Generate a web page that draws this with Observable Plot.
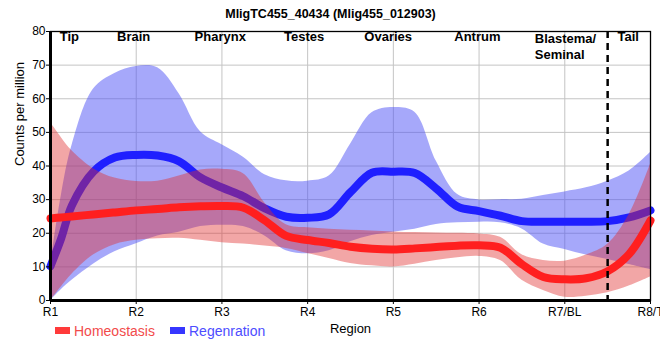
<!DOCTYPE html>
<html>
<head>
<meta charset="utf-8">
<script src="https://cdn.jsdelivr.net/npm/d3@7"></script>
<script src="https://cdn.jsdelivr.net/npm/@observablehq/plot@0.6"></script>
<style>
  html, body { margin: 0; padding: 0; background: white; overflow: hidden; }
  #wrap { position: relative; width: 660px; height: 360px; font-family: "Liberation Sans", Arial, sans-serif; }
  #chart { position: absolute; left: 0; top: 0; }
  .leg { position: absolute; top: 323px; font-size: 14px; line-height: 16px; white-space: nowrap; }
  .sw { position: absolute; top: 327px; width: 15px; height: 7px; }
</style>
</head>
<body>
<div id="wrap">
  <div id="chart"></div>
  <div class="sw" style="left:55px;background:#ff3a3a"></div>
  <div class="leg" style="left:74px;color:#f24b4b">Homeostasis</div>
  <div class="sw" style="left:170px;background:#3636ff"></div>
  <div class="leg" style="left:189px;color:#4d4dff">Regenration</div>
</div>
<script>
// Sample positions along the body (1 = R1 ... 8 = R8/T)
const pos = [1, 1.125, 1.25, 1.5, 1.75, 2, 2.25, 2.5, 2.75, 3, 3.25, 3.5, 3.75, 4, 4.25, 4.5, 4.75, 5, 5.25, 5.5, 5.75, 6, 6.25, 6.5, 6.75, 7, 7.25, 7.5, 7.75, 8];

const homeoMean = [24.4, 24.7, 25.0, 25.6, 26.2, 26.8, 27.2, 27.7, 28.0, 28.1, 27.6, 23.8, 19.2, 18.0, 17.1, 16.0, 15.4, 15.2, 15.5, 15.9, 16.3, 16.4, 15.7, 10.8, 7.0, 6.3, 6.6, 8.7, 13.8, 23.8];
const homeoHigh = [52.9, 48.5, 44.5, 39.2, 36.4, 35.4, 35.5, 37.0, 38.8, 39.0, 37.7, 29.0, 22.5, 21.6, 21.2, 20.9, 20.7, 20.4, 20.2, 20.1, 20.0, 19.8, 18.8, 13.6, 11.9, 11.7, 13.5, 16.7, 25.5, 40.5];
const homeoLow = [0, 4.0, 7.8, 13.5, 16.6, 17.9, 18.4, 18.5, 17.9, 17.2, 16.8, 16.2, 15.5, 14.0, 12.5, 11.0, 10.3, 10.0, 10.8, 11.9, 12.7, 13.1, 11.9, 6.0, 3.0, 1.0, 1.3, 2.3, 4.3, 7.0];

const regenMean = [10.2, 18.5, 28.3, 38.3, 42.5, 43.3, 43.1, 41.4, 36.6, 33.6, 31.0, 27.4, 24.9, 24.6, 25.6, 32.2, 38.0, 38.3, 37.9, 33.3, 27.9, 26.6, 25.2, 23.6, 23.4, 23.4, 23.4, 23.6, 24.7, 26.8];
const regenHigh = [10.5, 31.0, 46.0, 62.8, 67.5, 69.6, 69.2, 61.5, 50.2, 46.3, 42.6, 37.4, 35.6, 35.5, 37.0, 46.5, 55.8, 57.4, 56.0, 41.5, 31.5, 29.9, 30.0, 30.1, 31.2, 32.3, 33.5, 35.5, 38.5, 44.0];
const regenLow = [0, 3.2, 6.0, 10.8, 14.5, 16.9, 19.2, 20.3, 22.0, 22.4, 22.0, 19.2, 14.8, 13.9, 14.8, 17.5, 19.3, 20.3, 21.2, 22.6, 23.1, 23.3, 23.1, 21.3, 16.8, 15.2, 13.5, 12.2, 10.7, 9.2];

const tickPos = [1, 2, 3, 4, 5, 6, 7, 8];
const tickLabels = ["R1", "R2", "R3", "R4", "R5", "R6", "R7/BL", "R8/T"];
const yTicks = [0, 10, 20, 30, 40, 50, 60, 70, 80];

const regionNames = ["Tip", "Brain", "Pharynx", "Testes", "Ovaries", "Antrum", "Blastema/\nSeminal", "Tail"];
const regionLabelPos = [1.22, 1.97, 2.98, 3.96, 4.94, 5.98, 6.65, 7.74];
const tailBoundary = [7.5];

const title = "MligTC455_40434 (Mlig455_012903)";

const rows = pos.map((p, i) => ({
  p, hm: homeoMean[i], hh: homeoHigh[i], hl: homeoLow[i],
  rm: regenMean[i], rh: regenHigh[i], rl: regenLow[i]
}));
const labels = regionNames.map((name, i) => ({name, x: regionLabelPos[i]}));

const curve = "catmull-rom";

const chart = Plot.plot({
  width: 660,
  height: 360,
  marginTop: 31,
  marginBottom: 60,
  marginLeft: 50,
  marginRight: 10,
  style: {fontFamily: "'Liberation Sans', Arial, sans-serif", fontSize: "12px", color: "black", background: "white"},
  x: {domain: [1, 8]},
  y: {domain: [0, 80]},
  marks: [
    Plot.gridY(yTicks, {stroke: "#c4c4c4", strokeOpacity: 1}),
    Plot.gridX(tickPos, {stroke: "#c4c4c4", strokeOpacity: 1}),
    Plot.areaY(rows, {x: "p", y1: "rl", y2: "rh", fill: "#4d51f5", fillOpacity: 0.5, curve}),
    Plot.lineY(rows, {x: "p", y: "rm", stroke: "#1f1fff", strokeWidth: 8, curve}),
    Plot.areaY(rows, {x: "p", y1: "hl", y2: "hh", fill: "#e02c2c", fillOpacity: 0.42, curve}),
    Plot.lineY(rows, {x: "p", y: "hm", stroke: "#ff1f1f", strokeWidth: 8, curve}),
    Plot.ruleX(tailBoundary, {stroke: "black", strokeWidth: 2.5, strokeDasharray: "7,5"}),
    Plot.frame({stroke: "black", strokeWidth: 1.3}),
    Plot.ruleY([0], {stroke: "black", strokeWidth: 3}),
    Plot.ruleX([1], {stroke: "black", strokeWidth: 3}),
    Plot.axisY(yTicks, {tickSize: 4, tickPadding: 1, label: null, fontSize: 12}),
    Plot.axisX(tickPos, {tickSize: 4, tickPadding: 3, label: null, fontSize: 12,
      tickFormat: (d) => tickLabels[tickPos.indexOf(d)]}),
    Plot.text(labels.filter(d => !d.name.includes("\n")), {x: "x", text: "name", frameAnchor: "top", lineAnchor: "top", dy: 0, fontSize: 13, fontWeight: "bold", fill: "black"}),
    Plot.text(labels.filter(d => d.name.includes("\n")), {x: "x", text: "name", frameAnchor: "top", lineAnchor: "top", textAnchor: "start", dy: 0, fontSize: 13, fontWeight: "bold", lineHeight: 1.23, fill: "black"}),
    Plot.text(["Counts per million"], {frameAnchor: "left", rotate: -90, dx: -31, fontSize: 13, fill: "black"}),
    Plot.text(["Region"], {frameAnchor: "bottom", dy: 32, fontSize: 13, fill: "black"}),
    Plot.text([title], {frameAnchor: "top", dx: -20, dy: -22, fontSize: 12.5, fontWeight: "bold", fill: "black"})
  ]
});
document.getElementById("chart").appendChild(chart);
</script>
</body>
</html>
